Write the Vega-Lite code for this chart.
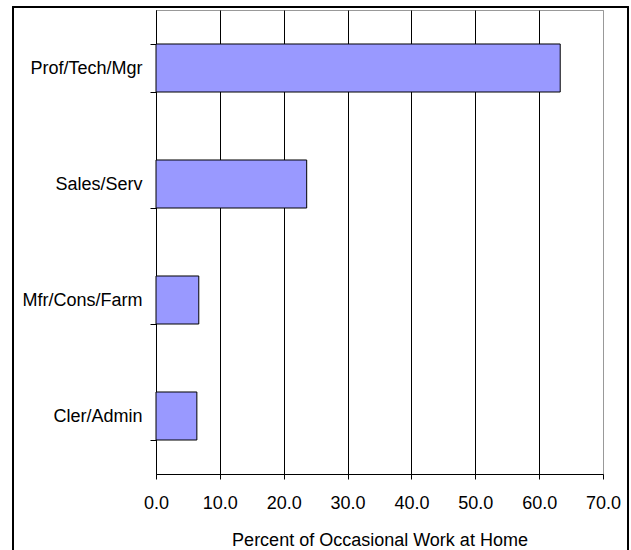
{
  "$schema": "https://vega.github.io/schema/vega-lite/v6.json",
  "autosize": {"type": "none"},
  "padding": {"left": 156, "top": 10, "right": 28, "bottom": 76},
  "width": 447,
  "height": 464,
  "background": "white",
  "config": {
    "font": "Liberation Sans",
    "view": {"stroke": "#999999", "strokeWidth": 1},
    "axis": {"labelColor": "black", "titleColor": "black", "labelFont": "Liberation Sans", "titleFont": "Liberation Sans", "titleFontWeight": "normal", "domainColor": "black", "tickColor": "black"}
  },
  "data": {"values": [
    {"occupation": "Prof/Tech/Mgr", "pct": 63.3},
    {"occupation": "Sales/Serv", "pct": 23.6},
    {"occupation": "Mfr/Cons/Farm", "pct": 6.7},
    {"occupation": "Cler/Admin", "pct": 6.4}
  ]},
  "resolve": {"scale": {"y": "independent"}, "axis": {"y": "independent"}},
  "layer": [
    {
      "mark": {"type": "rect", "fill": null, "stroke": "black", "strokeWidth": 1.5, "xOffset": -143, "x2Offset": 25, "yOffset": 90, "y2Offset": -3},
      "encoding": {
        "x": {"datum": 0, "type": "quantitative"},
        "x2": {"datum": 70},
        "y": {"datum": 0, "type": "quantitative", "scale": {"domain": [0, 1], "nice": false}, "axis": null},
        "y2": {"datum": 1}
      }
    },
    {
      "mark": {"type": "bar", "fill": "#9999FF", "stroke": "black", "strokeWidth": 1},
      "encoding": {
        "y": {
          "field": "occupation", "type": "nominal", "sort": null,
          "scale": {"paddingInner": 0.586, "paddingOuter": 0.293},
          "axis": {"title": null, "labelFontSize": 18, "labelPadding": 8, "tickSize": 6, "tickBand": "extent", "domainColor": "black", "grid": false}
        },
        "x": {
          "field": "pct", "type": "quantitative",
          "scale": {"domain": [0, 70], "nice": false},
          "axis": {
            "title": "Percent of Occasional Work at Home",
            "values": [0, 10, 20, 30, 40, 50, 60, 70],
            "format": ".1f",
            "labelFontSize": 18,
            "titleFontSize": 18,
            "labelPadding": 15,
            "titlePadding": 19,
            "tickSize": 5,
            "grid": true,
            "gridColor": {"condition": {"test": "datum.value >= 70", "value": "#999999"}, "value": "black"},
            "gridOpacity": 1,
            "labelFlush": false
          }
        }
      }
    }
  ]
}
